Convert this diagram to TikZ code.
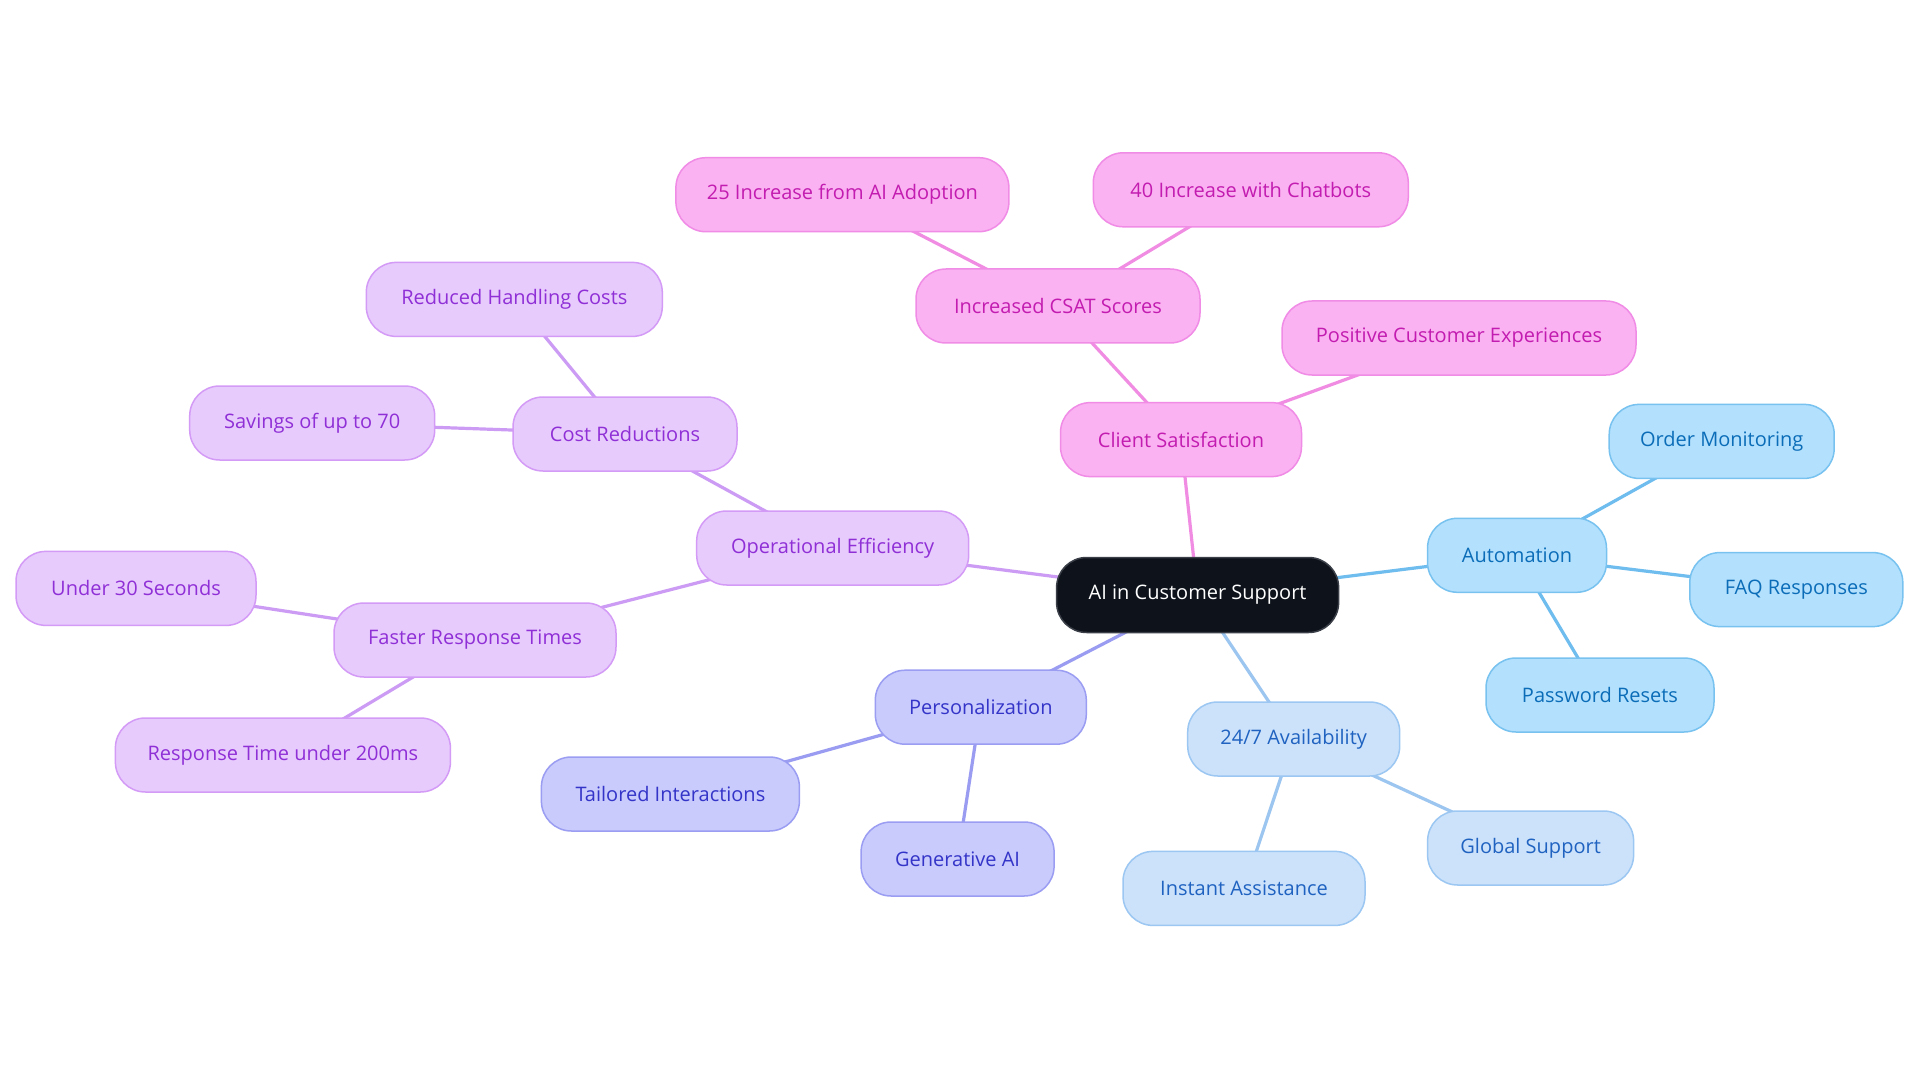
\documentclass[tikz,border=0pt]{standalone}
\usepackage{fontspec}
\setmainfont{Open Sans}
\usetikzlibrary{backgrounds}
\definecolor{rootfill}{HTML}{0D121B}
\definecolor{rootdraw}{HTML}{3A3F48}
\definecolor{pkfill}{HTML}{FBB2F2}
\definecolor{pkdraw}{HTML}{F08CE6}
\definecolor{pktext}{HTML}{C21CB0}
\definecolor{pkline}{HTML}{F08CE2}
\definecolor{pufill}{HTML}{E8CBFD}
\definecolor{pudraw}{HTML}{D49BF6}
\definecolor{putext}{HTML}{8F2FD6}
\definecolor{puline}{HTML}{CC9CF4}
\definecolor{idfill}{HTML}{C8CBFC}
\definecolor{iddraw}{HTML}{9A9DF2}
\definecolor{idtext}{HTML}{3434C8}
\definecolor{idline}{HTML}{9A9CF2}
\definecolor{lbfill}{HTML}{CCE2FB}
\definecolor{lbdraw}{HTML}{9CC7F2}
\definecolor{lbtext}{HTML}{1F62C0}
\definecolor{lbline}{HTML}{9CC6F0}
\definecolor{skfill}{HTML}{B3E0FD}
\definecolor{skdraw}{HTML}{78C2F0}
\definecolor{sktext}{HTML}{0B6DB8}
\definecolor{skline}{HTML}{6FBCEE}
\tikzset{
  box/.style={rectangle, rounded corners=30pt, minimum height=74pt, line width=1.5pt,
    inner sep=0pt, font=\fontsize{20pt}{24pt}\selectfont},
  rootbox/.style={box, fill=rootfill, draw=rootdraw, text=white, minimum height=75pt},
  pkbox/.style={box, fill=pkfill, draw=pkdraw, text=pktext},
  pubox/.style={box, fill=pufill, draw=pudraw, text=putext},
  idbox/.style={box, fill=idfill, draw=iddraw, text=idtext},
  lbbox/.style={box, fill=lbfill, draw=lbdraw, text=lbtext},
  skbox/.style={box, fill=skfill, draw=skdraw, text=sktext},
  cnx/.style={line width=3.2pt}
}
\begin{document}
\begin{tikzpicture}[x=1pt,y=-1pt]
\begin{pgfonlayer}{background}
\fill[white] (0,0) rectangle (1920,1083);
\end{pgfonlayer}
\useasboundingbox (0,0) rectangle (1920,1083);
% root
\node[rootbox, minimum width=282pt] (root) at (1197.6,595) {AI in Customer Support};
% pink
\node[pkbox, minimum width=241pt] (cs) at (1181,439.6) {Client Satisfaction};
\node[pkbox, minimum width=284pt] (csat) at (1058,306) {Increased CSAT Scores};
\node[pkbox, minimum width=333pt] (p25) at (842.4,194.7) {25 Increase from AI Adoption};
\node[pkbox, minimum width=315pt] (p40) at (1250.8,189.8) {40 Increase with Chatbots};
\node[pkbox, minimum width=354pt] (pos) at (1459,338) {Positive Customer Experiences};
% sky
\node[skbox, minimum width=179pt] (auto) at (1517,555.3) {Automation};
\node[skbox, minimum width=225pt] (order) at (1721.7,441.4) {Order Monitoring};
\node[skbox, minimum width=213pt] (faq) at (1796.3,589.6) {FAQ Responses};
\node[skbox, minimum width=228pt] (pwd) at (1600,695) {Password Resets};
% light blue
\node[lbbox, minimum width=212pt] (avail) at (1293.7,739) {24/7 Availability};
\node[lbbox, minimum width=206pt] (global) at (1530.6,848) {Global Support};
\node[lbbox, minimum width=242pt] (instant) at (1244,888.4) {Instant Assistance};
% indigo
\node[idbox, minimum width=211pt] (pers) at (980.8,707.2) {Personalization};
\node[idbox, minimum width=258pt] (tail) at (670.4,794) {Tailored Interactions};
\node[idbox, minimum width=193pt] (gen) at (957.6,859) {Generative AI};
% purple
\node[pubox, minimum width=272pt] (ope) at (832.7,548) {Operational Efficiency};
\node[pubox, minimum width=224pt] (cost) at (625,434) {Cost Reductions};
\node[pubox, minimum width=296pt] (red) at (514.3,299.4) {Reduced Handling Costs};
\node[pubox, minimum width=245pt] (sav) at (312.2,423) {Savings of up to 70};
\node[pubox, minimum width=282pt] (fast) at (475,640) {Faster Response Times};
\node[pubox, minimum width=240pt] (u30) at (136,588.4) {Under 30 Seconds};
\node[pubox, minimum width=335pt] (r200) at (282.9,755) {Response Time under 200ms};
\begin{pgfonlayer}{background}
\draw[cnx, pkline] (root.center) -- (cs.center);
\draw[cnx, pkline] (cs.center) -- (csat.center);
\draw[cnx, pkline] (csat.center) -- (p25.center);
\draw[cnx, pkline] (csat.center) -- (p40.center);
\draw[cnx, pkline] (cs.center) -- (pos.center);
\draw[cnx, skline] (root.center) -- (auto.center);
\draw[cnx, skline] (auto.center) -- (order.center);
\draw[cnx, skline] (auto.center) -- (faq.center);
\draw[cnx, skline] (auto.center) -- (pwd.center);
\draw[cnx, lbline] (root.center) -- (avail.center);
\draw[cnx, lbline] (avail.center) -- (global.center);
\draw[cnx, lbline] (avail.center) -- (instant.center);
\draw[cnx, idline] (root.center) -- (pers.center);
\draw[cnx, idline] (pers.center) -- (tail.center);
\draw[cnx, idline] (pers.center) -- (gen.center);
\draw[cnx, puline] (root.center) -- (ope.center);
\draw[cnx, puline] (ope.center) -- (cost.center);
\draw[cnx, puline] (cost.center) -- (red.center);
\draw[cnx, puline] (cost.center) -- (sav.center);
\draw[cnx, puline] (ope.center) -- (fast.center);
\draw[cnx, puline] (fast.center) -- (u30.center);
\draw[cnx, puline] (fast.center) -- (r200.center);
\end{pgfonlayer}
\end{tikzpicture}
\end{document}
